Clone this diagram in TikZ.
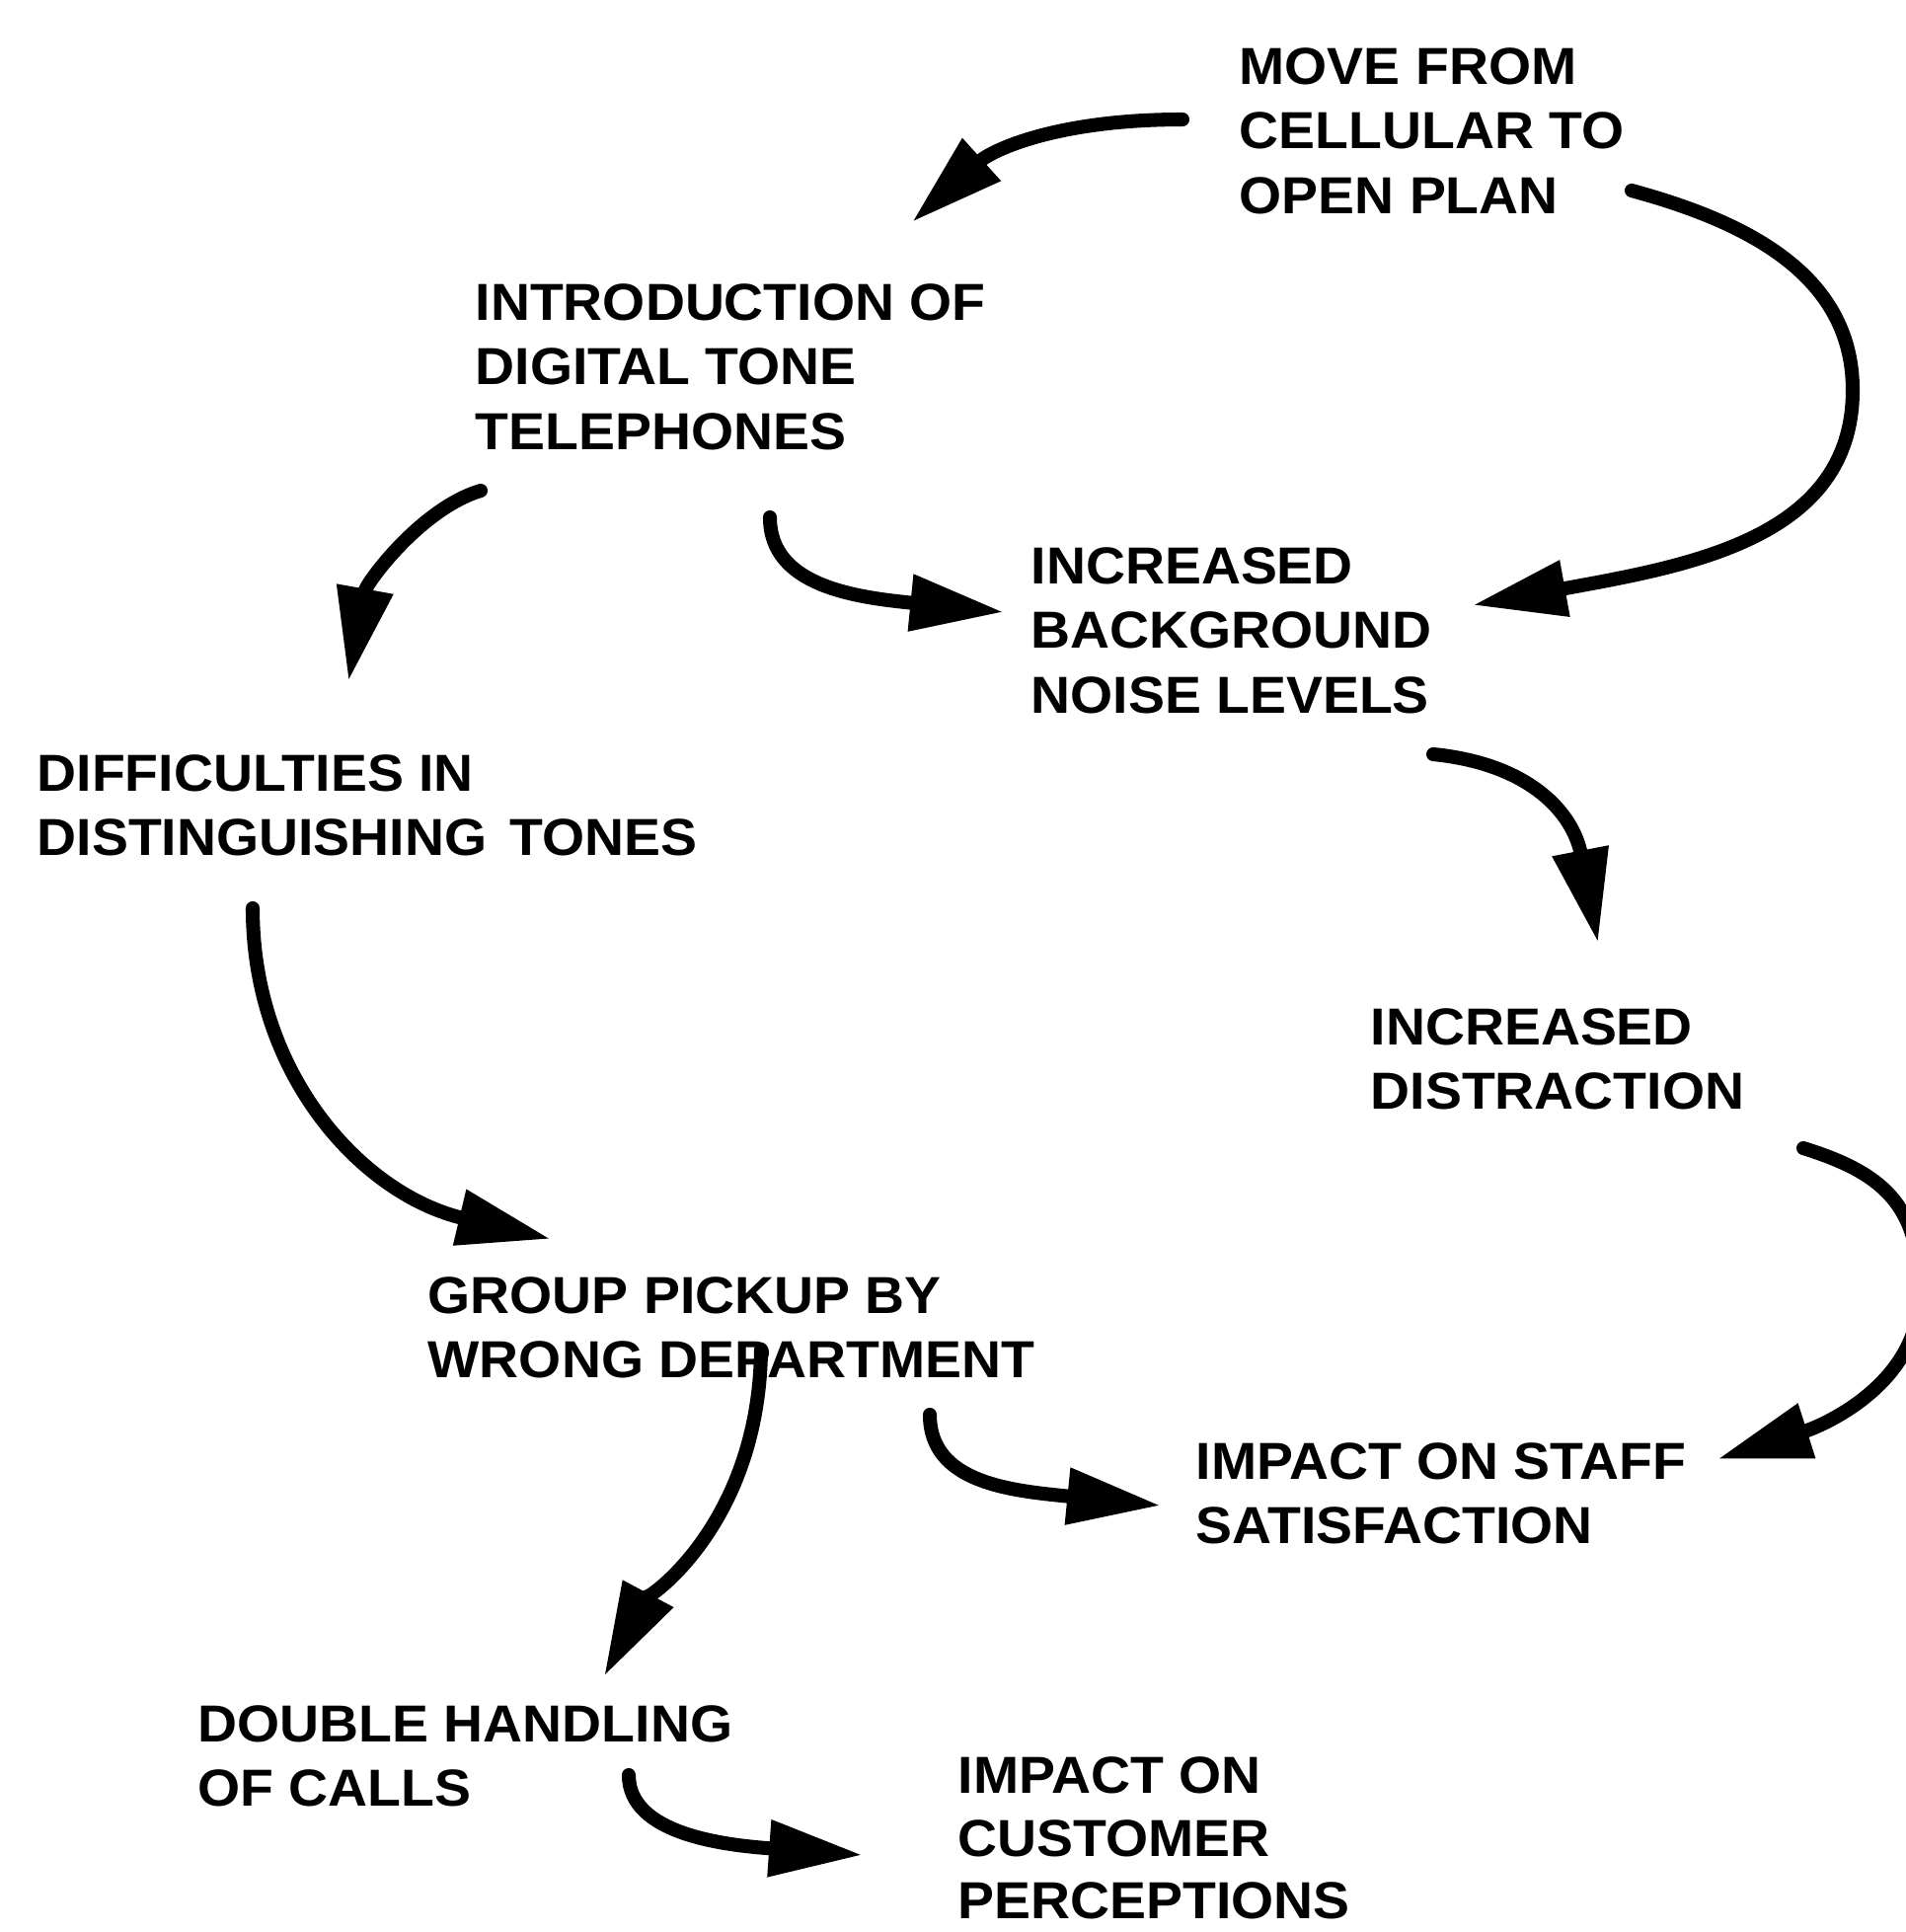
\documentclass[tikz,border=0pt]{standalone}
\usepackage{fontspec}
\setmainfont{Liberation Sans}[FakeStretch=1.05]
\usetikzlibrary{arrows.meta}
\newcommand\lblfont{\fontsize{15pt}{18.6pt}\selectfont\bfseries}
\newcommand\lbltightfont{\fontsize{15pt}{18.1pt}\selectfont\bfseries}
\tikzset{
  lbl/.style={anchor=north west, inner sep=0pt, align=left, font=\lblfont},
  flow/.style={line width=4pt, line cap=round,
    -{Triangle[length=27pt,width=15.5pt]}}
}
\begin{document}
\begin{tikzpicture}[x=0.01cm, y=-0.01cm]
\useasboundingbox (0,0) rectangle (1931,1957);
\clip (0,0) rectangle (1931,1957);

% statements
\node[lbl] (move)   at (1255,48)   {MOVE FROM\\CELLULAR TO\\OPEN PLAN};
\node[lbl] (intro)  at (481,287)   {INTRODUCTION OF\\DIGITAL TONE\\TELEPHONES};
\node[lbl] (noise)  at (1044,554)  {INCREASED\\BACKGROUND\\NOISE LEVELS};
\node[lbl] (diff)   at (37,764)    {DIFFICULTIES IN\\DISTINGUISHING\hspace{0.45em}TONES};
\node[lbl] (distr)  at (1388,1021) {INCREASED\\DISTRACTION};
\node[lbl] (group)  at (433,1293)  {GROUP PICKUP BY\\WRONG DEPARTMENT};
\node[lbl] (staff)  at (1211,1461) {IMPACT ON STAFF\\SATISFACTION};
\node[lbl] (double) at (200,1727)  {DOUBLE HANDLING\\OF CALLS};
\node[lbl, font=\lbltightfont] (cust) at (970,1779) {IMPACT ON\\CUSTOMER\\PERCEPTIONS};

% causal links
\draw[flow] ([shift={(-57,73)}]move.north west)
  .. controls +(-130,0) and +(80,-72) .. ([shift={(443,-62)}]intro.north west);
\draw[flow] ([shift={(398,145)}]move.north west)
  .. controls +(110,30) and +(0,-120) .. (1877,395)
  .. controls +(0,150) and +(220,-40) .. ([shift={(448,59)}]noise.north west);
\draw[flow] ([shift={(6,210)}]intro.north west)
  .. controls +(-60,18) and +(18,-100) .. ([shift={(316,-74)}]diff.north west);
\draw[flow] ([shift={(299,237)}]intro.north west)
  .. controls +(0,70) and +(-150,-15) .. ([shift={(-27,66)}]noise.north west);
\draw[flow] ([shift={(408,210)}]noise.north west)
  .. controls +(100,10) and +(-25,-130) .. ([shift={(231,-66)}]distr.north west);
\draw[flow] ([shift={(219,156)}]diff.north west)
  .. controls +(0,170) and +(-190,-45) .. ([shift={(125,-38)}]group.north west);
\draw[flow] ([shift={(439,142)}]distr.north west)
  .. controls +(80,25) and +(0,-90) .. (1945,1310)
  .. controls +(0,90) and +(110,-35) .. ([shift={(529,17)}]staff.north west);
\draw[flow] ([shift={(338,74)}]group.north west)
  .. controls +(-2,180) and +(40,-75) .. ([shift={(412,-29)}]double.north west);
\draw[flow] ([shift={(509,140)}]group.north west)
  .. controls +(0,70) and +(-150,-15) .. ([shift={(-35,64)}]staff.north west);
\draw[flow] ([shift={(437,71)}]double.north west)
  .. controls +(0,60) and +(-140,-10) .. ([shift={(-96,100)}]cust.north west);
\end{tikzpicture}
\end{document}
